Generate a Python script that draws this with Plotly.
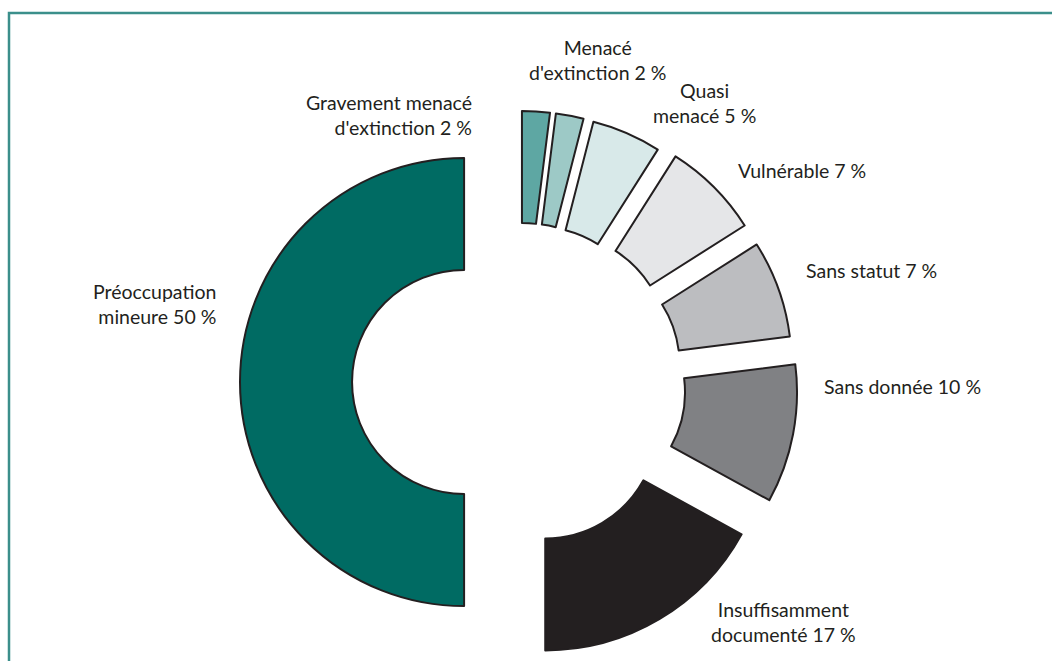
import plotly.graph_objects as go

# ---- data ----
categories = [
    "Gravement menacé d'extinction",
    "Menacé d'extinction",
    "Quasi menacé",
    "Vulnérable",
    "Sans statut",
    "Sans donnée",
    "Insuffisamment documenté",
    "Préoccupation mineure",
]
values = [2, 2, 5, 7, 7, 10, 17, 50]
label_texts = [
    "Gravement menacé<br>d'extinction 2 %",
    "Menacé<br>d'extinction 2 %",
    "Quasi<br>menacé 5 %",
    "Vulnérable 7 %",
    "Sans statut 7 %",
    "Sans donnée 10 %",
    "Insuffisamment<br>documenté 17 %",
    "Préoccupation<br>mineure 50 %",
]

# ---- style ----
W, H = 1052, 661
colors = ["#5ea7a3", "#9dc9c6", "#d8e9e9", "#e5e6e8", "#bcbdc0",
          "#808184", "#231f20", "#006b63"]
pulls = [0.21, 0.21, 0.21, 0.23, 0.23, 0.245, 0.23, 0.245]
# label placements in pixels: (x, y, xanchor, align)
label_pos = [
    (474, 115, "right", "right"),
    (597, 60, "center", "center"),
    (704, 103, "center", "center"),
    (736, 170, "left", "left"),
    (804, 270, "left", "left"),
    (822, 387, "left", "left"),
    (783, 622, "center", "center"),
    (218, 304, "right", "right"),
]

cx, cy = 519, 382
half = min(cy, H - cy)

fig = go.Figure(go.Pie(
    labels=categories,
    values=values,
    sort=False,
    direction="clockwise",
    rotation=0,
    hole=0.5,
    pull=pulls,
    textinfo="none",
    hoverinfo="label+percent",
    marker=dict(colors=colors, line=dict(color="#231f20", width=2)),
    domain=dict(x=[(cx - half) / W, (cx + half) / W],
                y=[(H - cy - half) / H, (H - cy + half) / H]),
    showlegend=False,
))

annotations = []
for txt, (x, y, xa, al) in zip(label_texts, label_pos):
    annotations.append(dict(
        x=x / W, y=1 - y / H, xref="paper", yref="paper",
        text=txt, showarrow=False, xanchor=xa, yanchor="middle", align=al,
        font=dict(family="Lato", size=19.5, color="#231f20"),
    ))

fig.update_layout(
    width=W, height=H,
    margin=dict(l=0, r=0, t=0, b=0),
    paper_bgcolor="white", plot_bgcolor="white",
    annotations=annotations,
    shapes=[dict(type="rect", xref="paper", yref="paper",
                 x0=9 / W, x1=1.05, y0=-0.05, y1=1 - 13 / H,
                 line=dict(color="#3b8f8b", width=2.5))],
)

fig.write_html("out.html", config={"displayModeBar": False},
               post_script="document.body.style.margin='0';")
